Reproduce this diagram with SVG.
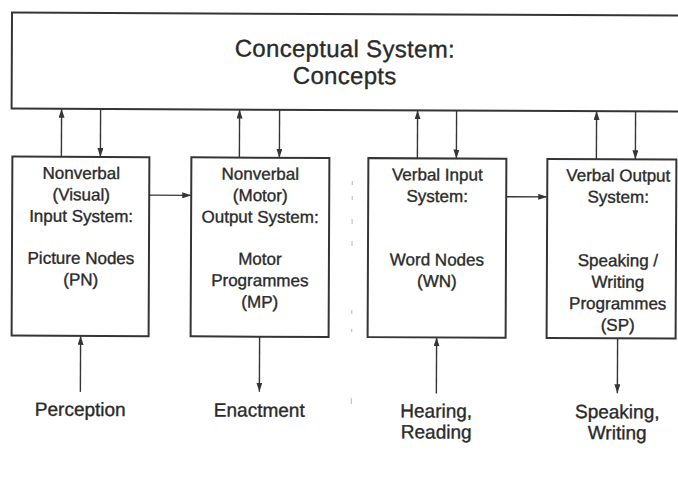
<svg xmlns="http://www.w3.org/2000/svg" width="678" height="492" viewBox="0 0 678 492">
  <style>
    .box { fill: #ffffff; stroke: #353535; stroke-width: 2; }
    .lbl, .title, .io { font-family: "Liberation Sans", Arial, sans-serif; fill: #2a2a2a; stroke: #2a2a2a; stroke-width: 0.35px; text-anchor: middle; }
    .lbl { font-size: 17px; }
    .title { font-size: 24px; letter-spacing: 0.3px; }
    .io { font-size: 19px; }
    .wire { stroke: #353535; stroke-width: 1.4; fill: none; marker-end: url(#head); }
    .faint { stroke: #c4c4c4; stroke-width: 1.2; }
  </style>
  <defs>
    <marker id="head" viewBox="0 0 9 6" refX="9" refY="3" markerWidth="9" markerHeight="6" markerUnits="userSpaceOnUse" orient="auto">
      <path d="M0,0 L9,3 L0,6 z" fill="#353535"/>
    </marker>
  </defs>
  <rect width="678" height="492" fill="#ffffff"/>
  <g transform="rotate(0.25 339 246)">
    <!-- central store of concepts -->
    <g id="conceptual-system">
      <rect class="box" x="11" y="14" width="700" height="96"/>
      <text class="title" x="344" y="57">Conceptual System:</text>
      <text class="title" x="344" y="84">Concepts</text>
    </g>

    <g id="nonverbal-input">
      <rect class="box" x="12" y="158" width="137" height="179"/>
      <text class="lbl" x="81" y="180">Nonverbal</text>
      <text class="lbl" x="81" y="201.5">(Visual)</text>
      <text class="lbl" x="81" y="223">Input System:</text>
      <text class="lbl" x="81" y="265">Picture Nodes</text>
      <text class="lbl" x="81" y="286.5">(PN)</text>
    </g>

    <g id="nonverbal-output">
      <rect class="box" x="191" y="158" width="138" height="179"/>
      <text class="lbl" x="260" y="180">Nonverbal</text>
      <text class="lbl" x="260" y="201.5">(Motor)</text>
      <text class="lbl" x="260" y="223">Output System:</text>
      <text class="lbl" x="260" y="265">Motor</text>
      <text class="lbl" x="260" y="286.5">Programmes</text>
      <text class="lbl" x="260" y="308">(MP)</text>
    </g>

    <g id="verbal-input">
      <rect class="box" x="368" y="158" width="138" height="179"/>
      <text class="lbl" x="437" y="180">Verbal Input</text>
      <text class="lbl" x="437" y="201.5">System:</text>
      <text class="lbl" x="437" y="265">Word Nodes</text>
      <text class="lbl" x="437" y="286.5">(WN)</text>
    </g>

    <g id="verbal-output">
      <rect class="box" x="547" y="158" width="129" height="179"/>
      <text class="lbl" x="618" y="180">Verbal Output</text>
      <text class="lbl" x="618" y="201.5">System:</text>
      <text class="lbl" x="618" y="265">Speaking /</text>
      <text class="lbl" x="618" y="286.5">Writing</text>
      <text class="lbl" x="618" y="308">Programmes</text>
      <text class="lbl" x="618" y="329.5">(SP)</text>
    </g>

    <!-- external inputs and outputs -->
    <g id="perception"><text class="io" x="81" y="417">Perception</text></g>
    <g id="enactment"><text class="io" x="260" y="417">Enactment</text></g>
    <g id="hearing-reading">
      <text class="io" x="437" y="417">Hearing,</text>
      <text class="io" x="437" y="438">Reading</text>
    </g>
    <g id="speaking-writing">
      <text class="io" x="618" y="417">Speaking,</text>
      <text class="io" x="618" y="438">Writing</text>
    </g>

    <g id="connectors">
      <!-- to and from the conceptual system -->
      <line class="wire" x1="61" y1="158" x2="61" y2="110"/>
      <line class="wire" x1="100" y1="110" x2="100" y2="158"/>
      <line class="wire" x1="239" y1="158" x2="239" y2="110"/>
      <line class="wire" x1="279" y1="110" x2="279" y2="158"/>
      <line class="wire" x1="417" y1="158" x2="417" y2="110"/>
      <line class="wire" x1="456" y1="110" x2="456" y2="158"/>
      <line class="wire" x1="596" y1="158" x2="596" y2="110"/>
      <line class="wire" x1="635" y1="110" x2="635" y2="158"/>
      <!-- input to output -->
      <line class="wire" x1="149" y1="196" x2="191" y2="196"/>
      <line class="wire" x1="506" y1="196" x2="547" y2="196"/>
      <!-- outside world -->
      <line class="wire" x1="81" y1="393" x2="81" y2="337"/>
      <line class="wire" x1="260" y1="337" x2="260" y2="392"/>
      <line class="wire" x1="437" y1="393" x2="437" y2="337"/>
      <line class="wire" x1="618" y1="337" x2="618" y2="392"/>
    </g>

    <!-- faint dotted divider between the nonverbal and verbal halves -->
    <g id="divider">
      <line class="faint" x1="352" y1="181" x2="352" y2="185"/>
      <line class="faint" x1="352" y1="196" x2="352" y2="200"/>
      <line class="faint" x1="352" y1="219" x2="352" y2="224"/>
      <line class="faint" x1="352" y1="241" x2="352" y2="246"/>
      <line class="faint" x1="352" y1="310" x2="352" y2="314"/>
      <line class="faint" x1="352" y1="329" x2="352" y2="332"/>
      <line class="faint" x1="352" y1="398" x2="352" y2="404"/>
    </g>
  </g>
</svg>
